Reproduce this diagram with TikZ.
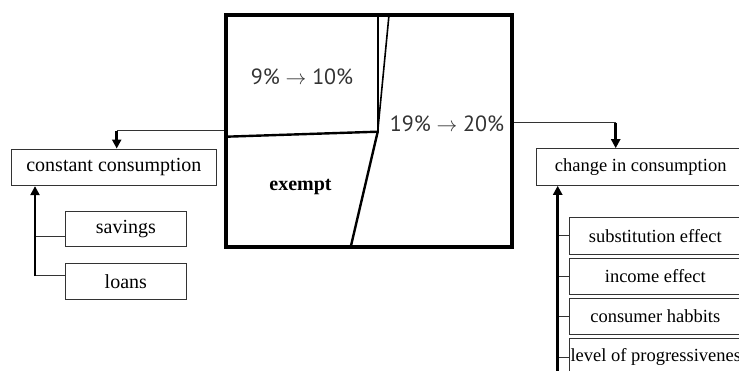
\documentclass[tikz,border=0pt]{standalone}
\usepackage{fontspec}
\setmainfont{Liberation Serif}
\newfontfamily\sansf{PT Sans}
\usetikzlibrary{arrows.meta}
\begin{document}
\begin{tikzpicture}[x=1pt,y=-1pt,
  box/.style={draw=black!80, line width=0.9pt, minimum height=36.7pt, inner sep=1pt, font=\fontsize{18.5}{20}\selectfont},
  lbox/.style={box, font=\fontsize{20}{22}\selectfont},
  thinline/.style={draw=black!80, line width=0.9pt},
  bigarrow/.style={draw=black, line width=2.6pt, -{Triangle[length=9pt,width=9pt]}},
  region/.style={line width=2.4pt, line cap=round, line join=round},
  pct/.style={font=\fontsize{22}{24}\selectfont\sansf, text=black!80}]
\useasboundingbox (0,0) rectangle (739,370);
\clip (0,0) rectangle (739,370);
% big box
\node[draw=black, line width=3.8pt, minimum width=286pt, minimum height=232pt, inner sep=0pt] (big) at (369,131) {};
\coordinate (tp) at (377.7,131.7);
\coordinate (vt) at (377.7,15);
\coordinate (st) at (389,15);
\coordinate (sb) at (350.7,247);
\coordinate (hl) at (226,136.7);
\draw[region] (vt) -- (tp);
\draw[region] (hl) -- (tp);
\draw[region] (tp) -- (sb);
\draw[line width=1.6pt] (st) -- (tp);
\node[pct] (t1) at (302,77) {9\% $\rightarrow$ 10\%};
\node[pct] (t2) at (447,123.5) {19\% $\rightarrow$ 20\%};
\node[font=\fontsize{20}{22}\selectfont\bfseries] (ex) at (300.5,186.5) {exempt};
% left side
\node[lbox, minimum width=205.7pt] (cc) at (113.85,167.35) {constant consumption};
\node[lbox, minimum width=121.7pt, minimum height=35.7pt] (sav) at (125.85,228.85) {savings};
\node[lbox, minimum width=121.7pt, minimum height=36pt] (loa) at (125.85,281.3) {loans};
\coordinate (lc) at (116.7,130.7);
\draw[thinline] (big.west |- lc) -- (lc);
\draw[bigarrow] (lc) -- (lc |- cc.north);
\coordinate (lv) at (35,276);
\coordinate (lb1) at (35,236.7);
\coordinate (lb2) at (35,275);
\draw[thinline] (lb1) -- (lb1 -| sav.west);
\draw[thinline] (lb2) -- (lb2 -| loa.west);
\draw[bigarrow] (lv) -- (lv |- cc.south);
% right side
\node[box, minimum width=208pt] (chg) at (640.7,167) {change in consumption};
\node[box, minimum width=172pt] (sub) at (655.3,235.65) {substitution effect};
\node[box, minimum width=172pt, minimum height=35.7pt] (inc) at (655.3,276.15) {income effect};
\node[box, minimum width=172pt, minimum height=35.3pt] (hab) at (655.3,316.35) {consumer habbits};
\node[box, minimum height=36.5pt, inner xsep=1.2pt] (lev) at (655.3,357) {\makebox[169.6pt][l]{level of progressiveness}};
\coordinate (rc) at (615.7,122.7);
\draw[thinline] (big.east |- rc) -- (rc);
\draw[bigarrow] (rc) -- (rc |- chg.north);
\coordinate (rv) at (557.7,372);
\draw[thinline] (rv |- sub.west) -- (sub.west);
\draw[thinline] (rv |- inc.west) -- (inc.west);
\draw[thinline] (rv |- hab.west) -- (hab.west);
\draw[thinline] (rv |- lev.west) -- (lev.west);
\draw[bigarrow] (rv) -- (rv |- chg.south);
\end{tikzpicture}
\end{document}
